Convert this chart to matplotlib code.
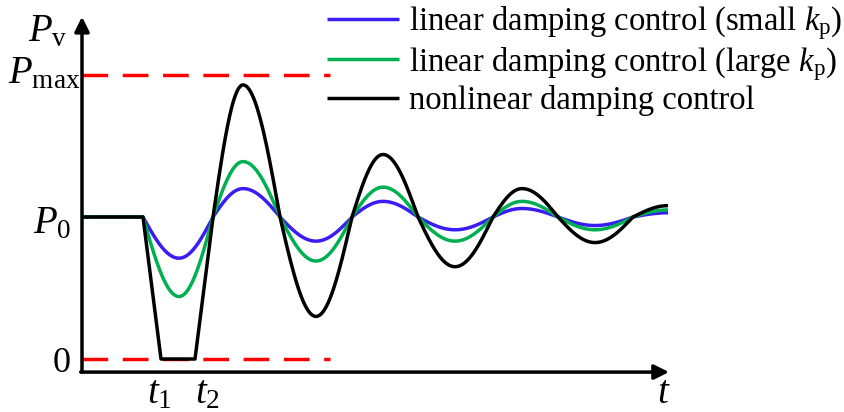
import numpy as np
import matplotlib
matplotlib.use("Agg")
import matplotlib.pyplot as plt

plt.rcParams['font.family'] = ['Liberation Serif', 'DejaVu Serif']
plt.rcParams['mathtext.fontset'] = 'custom'
plt.rcParams['mathtext.rm'] = 'Liberation Serif'
plt.rcParams['mathtext.it'] = 'Liberation Serif:italic'
plt.rcParams['mathtext.bf'] = 'Liberation Serif:bold'

# ---- data (schematic values; P0 = 1, Pmax = 2) ----
P0 = 1.0
Pmax = 2.0
t1 = 0.79
t2 = 1.13

# knot times (disturbance start, extrema and P0 crossings)
t_linear = [0.00, 0.61, 0.97, 1.31, 1.61, 1.98, 2.34, 2.70, 3.01, 3.36,
            3.73, 4.11, 4.40, 4.76, 5.13, 5.51, 5.86]
v_small_kp = [1.00, 1.00, 0.71, 1.00, 1.20, 1.00, 0.83, 1.00, 1.11, 1.00,
              0.91, 1.00, 1.06, 1.00, 0.94, 1.00, 1.03]
v_large_kp = [1.00, 1.00, 0.44, 1.00, 1.39, 1.00, 0.69, 1.00, 1.21, 1.00,
              0.83, 1.00, 1.11, 1.00, 0.91, 1.00, 1.05]

t_nonlinear = [0.00, 0.61, 0.79, 1.13, 1.31, 1.61, 1.98, 2.34, 2.70, 3.01,
               3.36, 3.73, 4.11, 4.40, 4.76, 5.13, 5.51, 5.86]
v_nonlinear = [1.00, 1.00, 0.00, 0.00, 1.00, 1.93, 1.00, 0.30, 1.00, 1.44,
               1.00, 0.65, 1.00, 1.20, 1.00, 0.82, 1.00, 1.08]

labels = ['linear damping control (small $k_{\\mathrm{p}}$)',
          'linear damping control (large $k_{\\mathrm{p}}$)',
          'nonlinear damping control']

# segment shapes: L = straight, S = crossing->extremum, C = extremum->crossing
kinds_linear = 'LSCSCSCSCSCSCSCS'
kinds_nonlinear = 'LLLLSCSCSCSCSCSCS'


def smooth(tk, vk, kinds, n=80):
    ts, vs = [], []
    for i, k in enumerate(kinds):
        s = np.linspace(0, 1, n)
        a, b = vk[i], vk[i + 1]
        if k == 'S':
            f = np.sin(np.pi / 2 * s)
        elif k == 'C':
            f = 1 - np.cos(np.pi / 2 * s)
        else:
            f = s
        ts.append(tk[i] + (tk[i + 1] - tk[i]) * s)
        vs.append(a + (b - a) * f)
    return np.concatenate(ts), np.concatenate(vs)


fig = plt.figure(figsize=(8.45, 4.12), dpi=100)
ax = fig.add_axes([0, 0, 1, 1])
ax.set_xlim(-0.82, 7.63)
ax.set_ylim(-0.373, 2.528)
ax.axis('off')

lw = 2.5
# red dashed reference levels
for lev in (Pmax, 0.0):
    ln, = ax.plot([0, 2.48], [lev, lev], color='#FF0000', lw=lw, zorder=1)
    ln.set_dashes((7.4, 4.2))

tb, vb = smooth(t_linear, v_small_kp, kinds_linear)
tg, vg = smooth(t_linear, v_large_kp, kinds_linear)
tk_, vk_ = smooth(t_nonlinear, v_nonlinear, kinds_nonlinear)
hb, = ax.plot(tb, vb, color='#3A1CF4', lw=lw, zorder=3, solid_capstyle='butt')
hg, = ax.plot(tg, vg, color='#00B050', lw=lw, zorder=3, solid_capstyle='butt')
hk, = ax.plot(tk_, vk_, color='black', lw=lw, zorder=4, solid_capstyle='butt')

# axes with arrows
y_axis0 = -0.092
ax.annotate('', xy=(0, 2.41), xytext=(0, y_axis0),
            arrowprops=dict(arrowstyle='-|>', lw=2.5, color='black',
                            mutation_scale=22, shrinkA=0, shrinkB=0), zorder=5)
ax.annotate('', xy=(5.87, y_axis0), xytext=(-0.013, y_axis0),
            arrowprops=dict(arrowstyle='-|>', lw=2.5, color='black',
                            mutation_scale=22, shrinkA=0, shrinkB=0), zorder=5)

fs = 28
ax.text(-0.14, 2.24, '$P_{\\mathrm{v}}$', fontsize=fs, ha='right', va='baseline')
ax.text(-0.02, 1.94, '$P_{\\mathrm{max}}$', fontsize=fs, ha='right', va='baseline')
ax.text(-0.11, 0.887, '$P_{0}$', fontsize=fs, ha='right', va='baseline')
ax.text(-0.11, -0.09, '0', fontsize=26, ha='right', va='baseline')
ax.text(0.65, -0.31, '$t_{1}$', fontsize=fs, ha='left', va='baseline')
ax.text(1.13, -0.31, '$t_{2}$', fontsize=fs, ha='left', va='baseline')
ax.text(5.75, -0.31, '$t$', fontsize=fs, ha='left', va='baseline')

leg = ax.legend([hb, hg, hk], labels, loc='upper left',
                bbox_to_anchor=(0.387, 0.99), frameon=False, fontsize=23.5,
                handlelength=2.2, handletextpad=0.3, labelspacing=0.08,
                borderpad=0.0, borderaxespad=0.0)

fig.savefig('out.png', dpi=100)
